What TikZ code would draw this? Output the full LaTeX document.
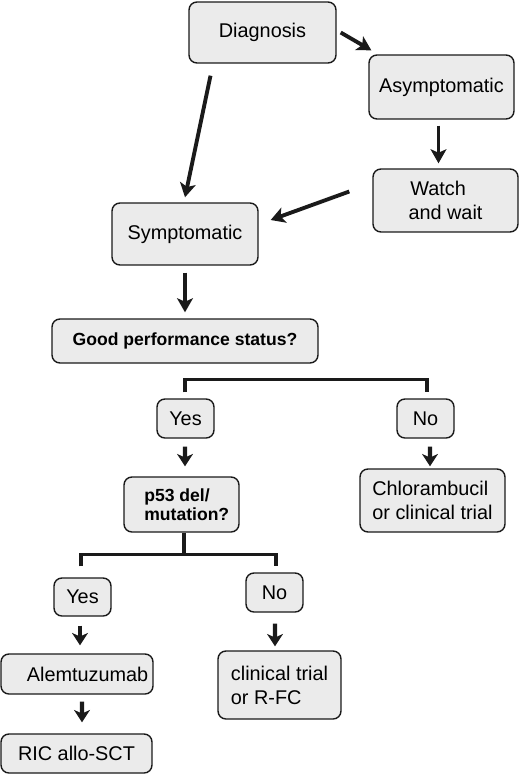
\documentclass[tikz,border=0pt]{standalone}
\usepackage{fontspec}
\setmainfont{Liberation Sans}
\usetikzlibrary{arrows.meta,calc}
\definecolor{boxfill}{HTML}{EBEBEB}
\definecolor{ink}{HTML}{1A1A1A}
\tikzset{
  box/.style={draw=ink, fill=boxfill, line width=0.8pt, rounded corners=4.5pt,
    inner sep=0pt, align=left, font=\fontsize{11.3}{13.6}\selectfont},
  boldbox/.style={box, font=\fontsize{10}{10.8}\selectfont\bfseries},
  bigarrow/.style={draw=ink, line width=2.2pt, -{Stealth[length=8pt,width=9pt,inset=2pt]}},
  smallarrow/.style={draw=ink, line width=2.3pt, -{Stealth[length=7pt,width=9pt,inset=2pt]}},
  bracket/.style={draw=ink, line width=2pt}
}
\begin{document}
\begin{tikzpicture}[x=0.02cm,y=-0.02cm]
\useasboundingbox (0,0) rectangle (520,774);
\node[box, minimum width=2.94cm, minimum height=1.22cm] (diag) at (262.5,32.5) {Diagnosis};
\node[box, minimum width=2.90cm, minimum height=1.28cm] (asym) at (441.5,87) {Asymptomatic};
\node[box, minimum width=2.90cm, minimum height=1.26cm] (watch) at (445.5,200.5) {\hspace*{1pt}Watch\\and wait};
\node[box, minimum width=2.92cm, minimum height=1.24cm] (symp) at (185,234) {Symptomatic};
\node[boldbox, minimum width=5.32cm, minimum height=0.88cm] (good) at (185,341) {Good performance status?};
\node[box, minimum width=1.14cm, minimum height=0.78cm] (yes1) at (185.5,418.5) {Yes};
\node[box, minimum width=1.14cm, minimum height=0.78cm] (no1) at (425.5,418.5) {No};
\node[boldbox, minimum width=2.30cm, minimum height=1.10cm] (p53) at (181.5,504.5) {\hspace*{6pt}p53 del/\\\hspace*{6pt}mutation?};
\node[box, minimum width=2.90cm, minimum height=1.26cm] (chlor) at (432.5,500.5) {Chlorambucil\\or clinical trial};
\node[box, minimum width=1.14cm, minimum height=0.76cm] (yes2) at (82.5,597) {Yes};
\node[box, minimum width=1.14cm, minimum height=0.78cm] (no2) at (274.5,592.5) {No};
\node[box, minimum width=3.04cm, minimum height=0.80cm] (alem) at (77,674) {\hspace*{12pt}Alemtuzumab};
\node[box, minimum width=3.02cm, minimum height=0.78cm] (ric) at (76.5,753.5) {RIC allo-SCT};
\node[box, minimum width=2.46cm, minimum height=1.36cm] (clin) at (279.5,685) {clinical trial\\or R-FC};

\draw[bigarrow] ($(diag.east)+(4,0)$) -- ($(asym.north west)+(3,-4)$);
\draw[bigarrow] ($(diag.south)+(-52,12)$) -- ($(symp.north)+(0,-5)$);
\draw[bigarrow] ($(asym.south)+(-3,6)$) -- ($(watch.north)+(-7,-5)$);
\draw[bigarrow] ($(watch.west)+(-23,-9)$) -- ($(symp.east)+(12,-14)$);
\draw[bigarrow] ($(symp.south)+(0,7)$) -- ($(good.north)+(0,-6)$);

\draw[bracket] ($(yes1.north)+(-0.5,-6)$) -- ($(yes1.north)+(-0.5,-19)$) -| ($(no1.north)+(1.5,-6)$);
\draw[smallarrow] ($(yes1.south)+(-0.5,8)$) -- ($(p53.north)+(3.5,-10)$);
\draw[smallarrow] ($(no1.south)+(4.5,8)$) -- ($(chlor.north)+(-2.5,-2)$);

\draw[bracket] ($(p53.south)+(2.5,0)$) -- ($(p53.south)+(2.5,23)$);
\draw[bracket] ($(yes2.north)+(-1.5,-11)$) -- ($(yes2.north)+(-1.5,-23)$) -| ($(no2.north)+(1.5,-6)$);
\draw[smallarrow] ($(yes2.south)+(-2.5,9)$) -- ($(alem.north)+(3,-8)$);
\draw[smallarrow] ($(alem.south)+(5,7)$) -- ($(ric.north)+(5.5,-11)$);
\draw[smallarrow] ($(no2.south)+(0.5,11)$) -- ($(clin.north)+(-4.5,-4)$);
\end{tikzpicture}
\end{document}
